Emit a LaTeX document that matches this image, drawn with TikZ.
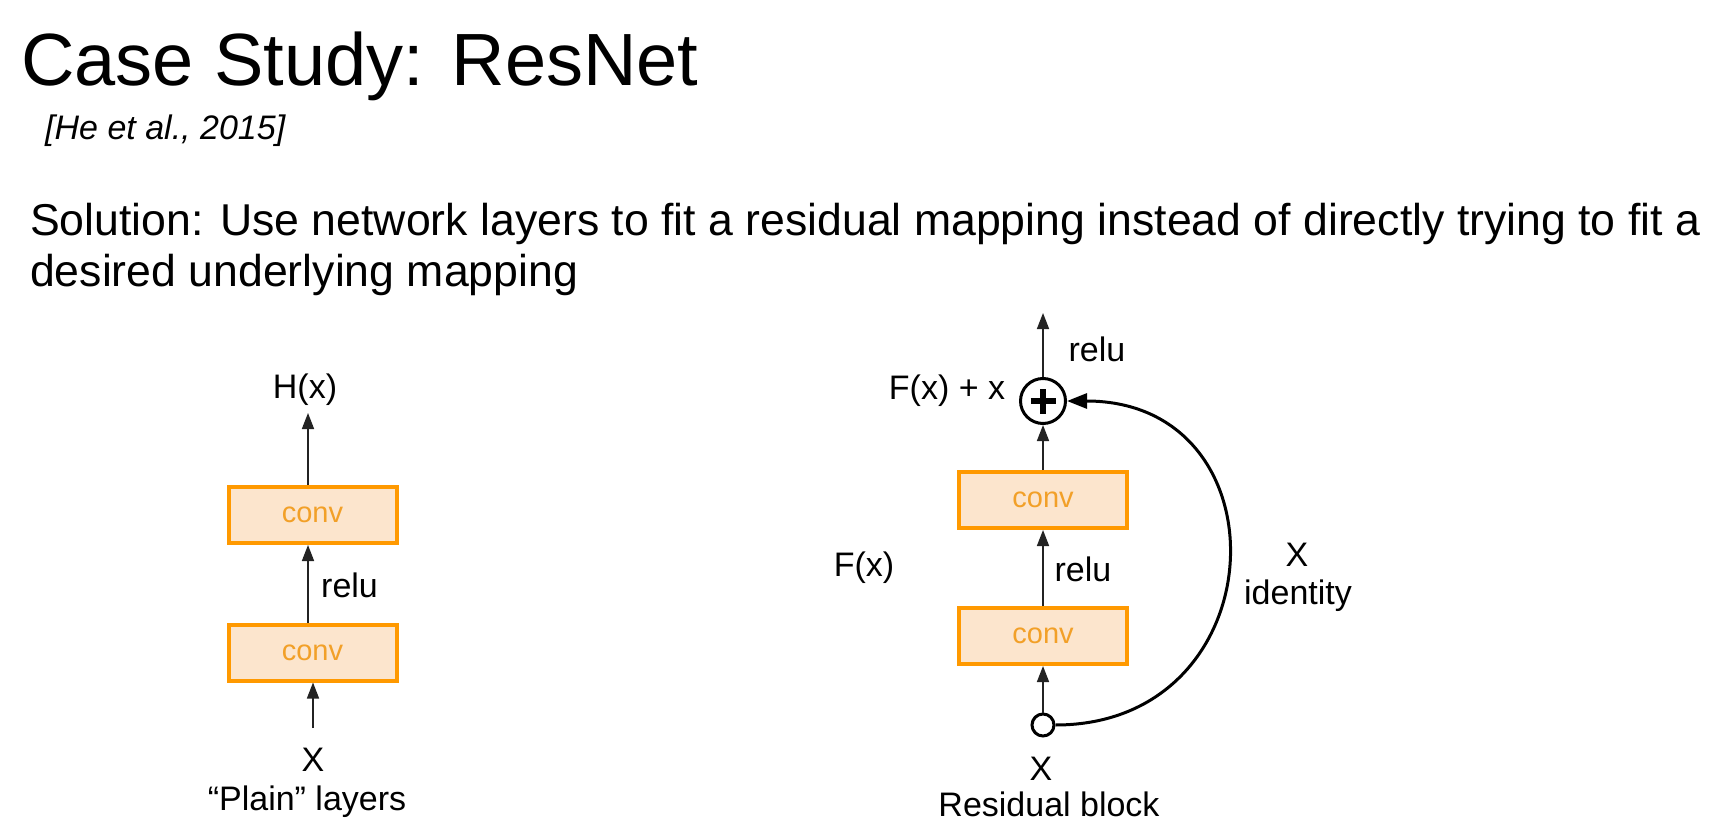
\documentclass[tikz,border=0pt]{standalone}
\usepackage{fontspec}
\setmainfont{Liberation Sans}
\usetikzlibrary{arrows.meta}
\definecolor{convfill}{RGB}{252,229,205}
\definecolor{convline}{RGB}{255,153,0}
\definecolor{convtext}{RGB}{242,160,40}
\definecolor{wire}{RGB}{35,35,35}

\begin{document}
\begin{tikzpicture}[x=1pt,y=-1pt,
  lbl/.style={inner sep=0pt, font=\fontsize{34}{40}\selectfont},
  convbox/.style={draw=convline, fill=convfill, line width=4pt,
    minimum width=168pt, minimum height=56pt, inner sep=0pt,
    text=convtext, font=\fontsize{29}{34}\selectfont},
  flow/.style={draw=wire, line width=1.6pt, -{Triangle[length=16pt,width=12pt]}},
  skip/.style={draw=black, line width=3pt, -{Triangle[length=20pt,width=15pt]}},
  ring/.style={circle, draw=black, line width=3pt, fill=white, inner sep=0pt}
]
\useasboundingbox (0,0) rectangle (1710,837);
\fill[white] (0,0) rectangle (1710,837);

% heading
\node[anchor=base west, inner sep=0pt, font=\fontsize{74}{80}\selectfont] (title) at (21,86) {Case Study: ResNet};
\node[anchor=base west, inner sep=0pt, font=\fontsize{34}{40}\selectfont\itshape] (cite) at (45,140) {[He et al., 2015]};
\node[anchor=base west, inner sep=0pt, font=\fontsize{44.6}{50}\selectfont] (sol1) at (30,236) {Solution: Use network layers to fit a residual mapping instead of directly trying to fit a};
\node[anchor=base west, inner sep=0pt, font=\fontsize{44.6}{50}\selectfont] (sol2) at (30,286) {desired underlying mapping};

% plain layers
\node[convbox] (lc1) at (312.5,652.5) {conv};
\node[convbox] (lc2) at (312.5,515) {conv};
\node[lbl] (hx) at (305,390) {H(x)};
\coordinate (lout) at (308,413);
\coordinate (lin) at (313,728);
\node[lbl, anchor=west] (lrelu) at (321,585) {relu};
\node[lbl] (lx) at (313,760) {X};
\node[lbl] (plain) at (307,802) {“Plain” layers};

\draw[flow] (lin) -- (lin |- lc1.south);
\draw[flow] ([xshift=-4.5pt]lc1.north) -- ([xshift=-4.5pt]lc2.south);
\draw[flow] ([xshift=-4.5pt]lc2.north) -- (lout);

% residual block
\node[ring, minimum size=45pt] (plus) at (1043,401) {};
\draw[line width=5.5pt] ([xshift=-12.5pt]plus.center) -- ([xshift=12.5pt]plus.center)
  ([yshift=-12.5pt]plus.center) -- ([yshift=12.5pt]plus.center);
\node[convbox] (rc2) at (1043,500) {conv};
\node[convbox] (rc1) at (1043,636) {conv};
\node[ring, minimum size=22pt] (xin) at (1043,725) {};
\coordinate (rout) at (1043,313);
\node[lbl] (rrelu2) at (1097,349) {relu};
\node[lbl] (fxx) at (947,391) {F(x) + x};
\node[lbl] (fx) at (864,568) {F(x)};
\node[lbl] (rrelu1) at (1083,569) {relu};
\node[lbl] (xid) at (1297,555) {X};
\node[lbl] (ident) at (1298,596) {identity};
\node[lbl] (rx) at (1041,769) {X};
\node[lbl] (resid) at (1049,804) {Residual block};

\draw[flow] (xin.north) -- (xin.north |- rc1.south);
\draw[flow] (rc1.north) -- (rc2.south);
\draw[flow] (rc2.north) -- (plus.south);
\draw[flow] (plus.north) -- (rout);
\draw[skip] (xin.east) .. controls +(222,0) and +(222,0) .. (plus.east);
\end{tikzpicture}
\end{document}
